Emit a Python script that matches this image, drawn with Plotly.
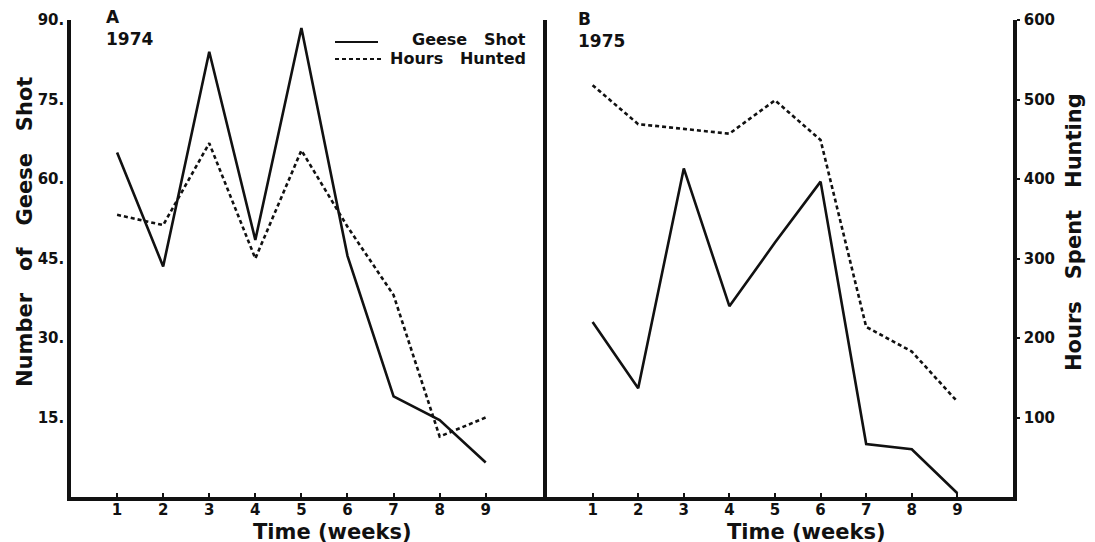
import plotly.graph_objects as go

weeks = [1, 2, 3, 4, 5, 6, 7, 8, 9]
geese_1974 = [65, 43.5, 84, 48.5, 88.5, 45.5, 19, 14.5, 6.5]
hours_1974 = [355, 342, 445, 300, 436, 340, 254, 76, 100]
geese_1975 = [33, 20.5, 62, 36, 48, 59.5, 10, 9, 0.7]
hours_1975 = [518, 469, 463, 457, 499, 449, 214, 183, 120]

geese_ticks = [15, 30, 45, 60, 75, 90]
hours_ticks = [100, 200, 300, 400, 500, 600]

FONT = "DejaVu Sans"
BLACK = "#111111"
W, H = 1095, 542
OFF = 8  # page body margin
ML = 71 - OFF
MT = 20 - OFF
MR = W - (1013 - OFF)
MB = H - (497 - OFF)
PW, PH = W - ML - MR, H - MT - MB
split = (547 - 71) / PW

def px(xp):
    return (xp - OFF - ML) / PW

def py(yp):
    return 1 - (yp - OFF - MT) / PH

fig = go.Figure()
solid = dict(color=BLACK, width=2.6)
dashed = dict(color=BLACK, width=2.6, dash="4px,3px")

fig.add_trace(go.Scatter(x=weeks, y=geese_1974, mode="lines", line=solid,
                         xaxis="x", yaxis="y", showlegend=False))
fig.add_trace(go.Scatter(x=weeks, y=hours_1974, mode="lines", line=dashed,
                         xaxis="x", yaxis="y4", showlegend=False))
fig.add_trace(go.Scatter(x=weeks, y=geese_1975, mode="lines", line=solid,
                         xaxis="x2", yaxis="y2", showlegend=False))
fig.add_trace(go.Scatter(x=weeks, y=hours_1975, mode="lines", line=dashed,
                         xaxis="x2", yaxis="y3", showlegend=False))

tickfont = dict(family=FONT, size=15, color=BLACK, weight="bold")
axline = dict(showline=True, linecolor=BLACK, linewidth=3.5, showgrid=False,
              zeroline=False, automargin=False)

fig.update_layout(
    width=W, height=H,
    margin=dict(l=ML, r=MR, t=MT, b=MB, autoexpand=False),
    paper_bgcolor="white", plot_bgcolor="white",
    xaxis=dict(domain=[0, split], range=[0, 10.33], anchor="y",
               tickvals=weeks, ticks="inside", ticklen=4, tickwidth=2, tickcolor=BLACK,
               tickfont=tickfont, ticklabelstandoff=-4, **axline),
    yaxis=dict(domain=[0, 1], range=[0, 90], anchor="x",
               tickvals=geese_ticks, ticktext=[f"{t}." for t in geese_ticks],
               ticks="", tickfont=tickfont, ticklabelstandoff=0, **axline),
    yaxis4=dict(range=[0, 600], overlaying="y", anchor="x", visible=False, automargin=False),
    xaxis2=dict(domain=[split, 1], range=[0, 10.22], anchor="y2",
                tickvals=weeks, ticks="inside", ticklen=4, tickwidth=2, tickcolor=BLACK,
                tickfont=tickfont, ticklabelstandoff=-4, **axline),
    yaxis2=dict(domain=[0, 1], range=[0, 90], anchor="x2",
                showticklabels=False, ticks="", **axline),
    yaxis3=dict(range=[0, 600], overlaying="y2", anchor="x2", side="right",
                tickvals=hours_ticks, ticks="outside", ticklen=3, tickwidth=2,
                tickcolor=BLACK, tickfont=tickfont, ticklabelstandoff=1, **axline),
)

sp3 = "\u00a0\u00a0\u00a0"
title_font = dict(family=FONT, size=21, color=BLACK, weight="bold")
ann = []
ann.append(dict(text=f"Number{sp3}of{sp3}Geese{sp3}Shot", x=px(25), y=py(232),
                textangle=-90, font=title_font))
ann.append(dict(text=f"Hours{sp3}Spent{sp3}Hunting", x=px(1074), y=py(232),
                textangle=-90, font=title_font))
ann.append(dict(text="Time (weeks)", x=px(332), y=py(532), font=title_font))
ann.append(dict(text="Time (weeks)", x=px(806), y=py(532), font=title_font))
lab_font = dict(family=FONT, size=17, color=BLACK, weight="bold")
ann.append(dict(text="A<br>1974", x=px(104), y=py(28), font=lab_font,
                xanchor="left", align="left"))
ann.append(dict(text="B<br>1975", x=px(576), y=py(30), font=lab_font,
                xanchor="left", align="left"))
leg_font = dict(family=FONT, size=16, color=BLACK, weight="bold")
ann.append(dict(text=f"Geese{sp3}Shot", x=px(528), y=py(40), font=leg_font, xanchor="right"))
ann.append(dict(text=f"Hours{sp3}Hunted", x=px(528), y=py(58), font=leg_font, xanchor="right"))
for a in ann:
    a.update(xref="paper", yref="paper", showarrow=False)
    a.setdefault("xanchor", "center")
    a.setdefault("yanchor", "middle")
fig.update_layout(annotations=ann)

fig.add_shape(type="line", xref="paper", yref="paper", x0=px(335), x1=px(378),
              y0=py(42), y1=py(42), line=dict(color=BLACK, width=2.2))
fig.add_shape(type="line", xref="paper", yref="paper", x0=px(335), x1=px(384),
              y0=py(59), y1=py(59), line=dict(color=BLACK, width=2.2, dash="4px,3px"))

fig.write_html("out.html")
